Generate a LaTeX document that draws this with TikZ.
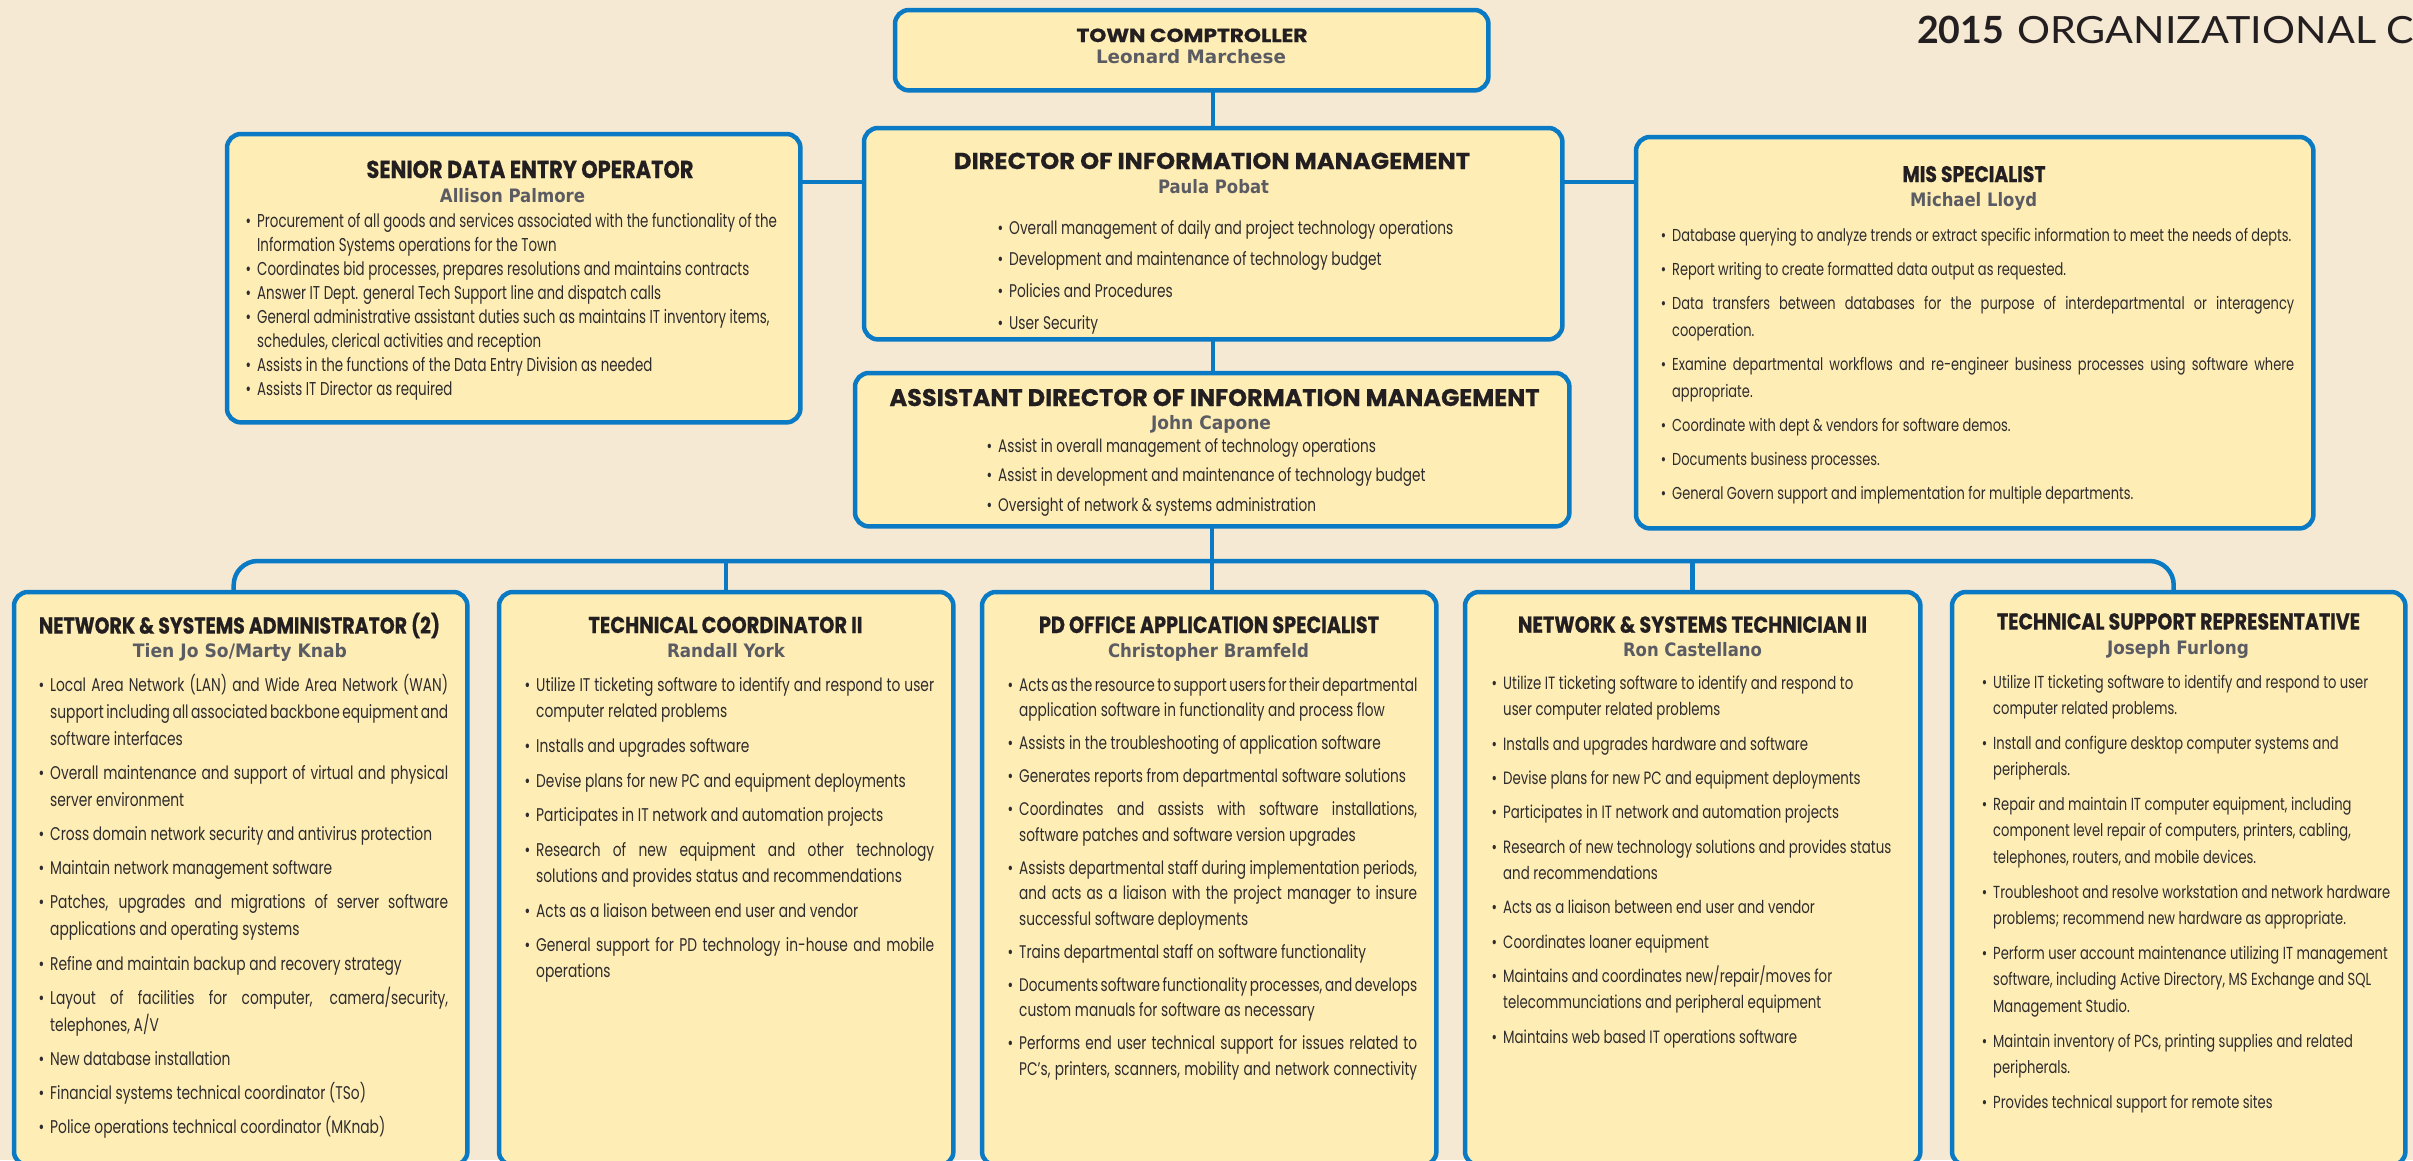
\documentclass[tikz,border=0pt]{standalone}
\usepackage{fontspec}
\usepackage{graphicx}
\setmainfont{Poppins}
\newfontfamily\HdF{Poppins}[BoldFeatures={FakeBold=0.6}]
\newfontfamily\NmF{DejaVu Sans}
\newfontfamily\BdN{Poppins}[FakeStretch=0.75]
\newfontfamily\BdC{Poppins}[FakeStretch=0.72]
\newfontfamily\TtF{Lato}

\definecolor{pagebg}{HTML}{F5E9D4}
\definecolor{boxfill}{HTML}{FEEDB5}
\definecolor{boxline}{HTML}{0A7AC4}
\definecolor{headcol}{HTML}{231F20}
\definecolor{namecol}{HTML}{5B5C63}
\definecolor{bodycol}{HTML}{2E2C2D}

% heading: target width, font size, text
\newcommand\Hd[3]{\resizebox{#1pt}{\height}{\HdF\bfseries\fontsize{#2}{#2}\selectfont #3}}
% person name: target width, text
\newcommand\Nm[2]{\resizebox{#1pt}{\height}{\NmF\bfseries\fontsize{18.5}{18.5}\selectfont #2}}
% list lines: bullet, justified line, ragged line, gap between duties
\newcommand\Bu{\llap{\textbullet\hskip 6pt}}
\newcommand\JL[1]{\hbox to\hsize{#1}}
\newcommand\RL[1]{\hbox{#1}}
\newcommand\GP[1]{\vskip #1pt}

\tikzset{
  orgbox/.style={draw=none, fill=none, inner sep=0pt, anchor=north west},
  link/.style={draw=boxline, line width=4.5pt},
  head/.style={inner sep=0pt, anchor=base, text=headcol},
  pname/.style={inner sep=0pt, anchor=base, text=namecol},
  duties/.style={inner sep=0pt, anchor=base west, text=bodycol},
}

\begin{document}
\begin{tikzpicture}[x=1pt,y=-1pt]
\useasboundingbox (0,0) rectangle (2413,1160);
\fill[pagebg] (0,0) rectangle (2413,1160);

% ---------- position boxes ----------
\node[orgbox, minimum width=593pt, minimum height=80pt] (ctrl) at (895,10) {};
\node[orgbox, minimum width=573pt, minimum height=288pt] (sen) at (227,134) {};
\node[orgbox, minimum width=698pt, minimum height=211pt] (dir) at (864,128) {};
\node[orgbox, minimum width=677pt, minimum height=391pt] (mis) at (1636,137) {};
\node[orgbox, minimum width=714pt, minimum height=153pt] (asst) at (855,373) {};
\node[orgbox, minimum width=453pt, minimum height=573pt] (b1) at (14,592) {};
\node[orgbox, minimum width=454pt, minimum height=573pt] (b2) at (499,592) {};
\node[orgbox, minimum width=454pt, minimum height=573pt] (b3) at (982,592) {};
\node[orgbox, minimum width=455pt, minimum height=573pt] (b4) at (1465,592) {};
\node[orgbox, minimum width=453pt, minimum height=573pt] (b5) at (1952,592) {};

% ---------- reporting lines (drawn first, boxes sit on top) ----------
\coordinate (hl) at (1214,182);
\coordinate (bus) at (1214,561);

\draw[link] (dir.north) -- (dir.north |- ctrl.south);
\draw[link] (dir.south) -- (dir.south |- asst.north);
\draw[link] (sen.east |- hl) -- (dir.west |- hl);
\draw[link] (dir.east |- hl) -- (mis.west |- hl);
\draw[link] (asst.south) -- (asst.south |- b3.north);
\draw[link, rounded corners=24pt] ([xshift=-7pt]b1.north) |- (bus) -| ([xshift=-5pt]b5.north);
\draw[link] (b2.north) -- (b2.north |- bus);
\draw[link] (b4.north) -- (b4.north |- bus);

% ---------- box outlines ----------
\foreach \b in {ctrl,sen,dir,mis,asst,b1,b2,b3,b4,b5}{
  \path[draw=boxline, fill=boxfill, line width=4.5pt, rounded corners=14pt]
    (\b.north west) rectangle (\b.south east);
}

% ---------- title ----------
\node[inner sep=0pt, anchor=base west, text=headcol] (title) at (1917,43)
  {\TtF\fontsize{37.5}{37.5}\selectfont\textbf{2015}\hskip 13pt\scalebox{1.10}[1]{ORGANIZATIONAL CHART}};

% ---------- headings and names ----------
\node[head] (ctrl-t) at (1192,42) {\Hd{231}{19}{TOWN COMPTROLLER}};
\node[pname] (ctrl-n) at (1191,63) {\Nm{190}{Leonard Marchese}};

\node[head] (sen-t) at (530,178) {\Hd{327}{24.5}{SENIOR DATA ENTRY OPERATOR}};
\node[pname] (sen-n) at (512.5,202) {\Nm{145}{Allison Palmore}};

\node[head] (dir-t) at (1212,169) {\Hd{516}{23}{DIRECTOR OF INFORMATION MANAGEMENT}};
\node[pname] (dir-n) at (1213.5,193) {\Nm{111}{Paula Pobat}};

\node[head] (mis-t) at (1974,182) {\Hd{143}{22.5}{MIS SPECIALIST}};
\node[pname] (mis-n) at (1973.5,206) {\Nm{127}{Michael Lloyd}};

\node[head] (asst-t) at (1214.5,406) {\Hd{650}{24}{ASSISTANT DIRECTOR OF INFORMATION MANAGEMENT}};
\node[pname] (asst-n) at (1211,429) {\Nm{120}{John Capone}};

\node[head] (b1-t) at (239.5,633.6) {\Hd{401}{23}{NETWORK \& SYSTEMS ADMINISTRATOR (2)}};
\node[pname] (b1-n) at (240,657.7) {\Nm{214}{Tien Jo So/Marty Knab}};

\node[head] (b2-t) at (725.5,633) {\Hd{274}{23}{TECHNICAL COORDINATOR II}};
\node[pname] (b2-n) at (726,657) {\Nm{118}{Randall York}};

\node[head] (b3-t) at (1209,633) {\Hd{340}{23.5}{PD OFFICE APPLICATION SPECIALIST}};
\node[pname] (b3-n) at (1208.5,657.5) {\Nm{201}{Christopher Bramfeld}};

\node[head] (b4-t) at (1692.5,632.7) {\Hd{349}{23}{NETWORK \& SYSTEMS TECHNICIAN II}};
\node[pname] (b4-n) at (1692.5,656.7) {\Nm{139}{Ron Castellano}};

\node[head] (b5-t) at (2178.5,629.6) {\Hd{363}{23}{TECHNICAL SUPPORT REPRESENTATIVE}};
\node[pname] (b5-n) at (2178,654.6) {\Nm{142}{Joseph Furlong}};

% ---------- duties ----------
\node[duties] (sen-d) at (257,227) {\vtop{\hsize=530pt\BdC\fontsize{18.6}{24}\selectfont
  \RL{\Bu Procurement of all goods and services associated with the functionality of the}
  \RL{Information Systems operations for the Town}
  \RL{\Bu Coordinates bid processes, prepares resolutions and maintains contracts}
  \RL{\Bu Answer IT Dept. general Tech Support line and dispatch calls}
  \RL{\Bu General administrative assistant duties such as maintains IT inventory items,}
  \RL{schedules, clerical activities and reception}
  \RL{\Bu Assists in the functions of the Data Entry Division as needed}
  \RL{\Bu Assists IT Director as required}}};

\node[duties] (dir-d) at (1009,234) {\vtop{\hsize=500pt\BdN\fontsize{18.35}{31.7}\selectfont
  \RL{\Bu Overall management of daily and project technology operations}
  \RL{\Bu Development and maintenance of technology budget}
  \RL{\Bu Policies and Procedures}
  \RL{\Bu User Security}}};

\node[duties] (asst-d) at (998,452) {\vtop{\hsize=500pt\BdN\fontsize{18.2}{29.5}\selectfont
  \RL{\Bu Assist in overall management of technology operations}
  \RL{\Bu Assist in development and maintenance of technology budget}
  \RL{\Bu Oversight of network \& systems administration}}};

\node[duties] (mis-d) at (1672,241) {\vtop{\hsize=622pt\BdN\fontsize{17.3}{27}\selectfont
  \RL{\Bu Database querying to analyze trends or extract specific information to meet the needs of depts.}\GP{7}
  \RL{\Bu Report writing to create formatted data output as requested.}\GP{7}
  \JL{\Bu Data transfers between databases for the purpose of interdepartmental or interagency}
  \RL{cooperation.}\GP{7}
  \JL{\Bu Examine departmental workflows and re-engineer business processes using software where}
  \RL{appropriate.}\GP{7}
  \RL{\Bu Coordinate with dept \& vendors for software demos.}\GP{7}
  \RL{\Bu Documents business processes.}\GP{7}
  \RL{\Bu General Govern support and implementation for multiple departments.}}};

\node[duties] (b1-d) at (50,691) {\vtop{\hsize=398pt\BdN\fontsize{18.4}{27}\selectfont
  \JL{\Bu Local Area Network (LAN) and Wide Area Network (WAN)}
  \JL{support including all associated backbone equipment and}
  \RL{software interfaces}\GP{7.2}
  \JL{\Bu Overall maintenance and support of virtual and physical}
  \RL{server environment}\GP{7.2}
  \RL{\Bu Cross domain network security and antivirus protection}\GP{7.2}
  \RL{\Bu Maintain network management software}\GP{7.2}
  \JL{\Bu Patches, upgrades and migrations of server software}
  \RL{applications and operating systems}\GP{7.2}
  \RL{\Bu Refine and maintain backup and recovery strategy}\GP{7.2}
  \JL{\Bu Layout of facilities for computer, camera/security,}
  \RL{telephones, A/V}\GP{7.2}
  \RL{\Bu New database installation}\GP{7.2}
  \RL{\Bu Financial systems technical coordinator (TSo)}\GP{7.2}
  \RL{\Bu Police operations technical coordinator (MKnab)}}};

\node[duties] (b2-d) at (536,691.7) {\vtop{\hsize=398pt\BdN\fontsize{18.4}{26}\selectfont
  \JL{\Bu Utilize IT ticketing software to identify and respond to user}
  \RL{computer related problems}\GP{8.7}
  \RL{\Bu Installs and upgrades software}\GP{8.7}
  \RL{\Bu Devise plans for new PC and equipment deployments}\GP{8.7}
  \RL{\Bu Participates in IT network and automation projects}\GP{8.7}
  \JL{\Bu Research of new equipment and other technology}
  \RL{solutions and provides status and recommendations}\GP{8.7}
  \RL{\Bu Acts as a liaison between end user and vendor}\GP{8.7}
  \JL{\Bu General support for PD technology in-house and mobile}
  \RL{operations}}};

\node[duties] (b3-d) at (1019,691) {\vtop{\hsize=398pt\BdN\fontsize{18.25}{25.5}\selectfont
  \JL{\Bu Acts as the resource to support users for their departmental}
  \RL{application software in functionality and process flow}\GP{7.5}
  \RL{\Bu Assists in the troubleshooting of application software}\GP{7.5}
  \RL{\Bu Generates reports from departmental software solutions}\GP{7.5}
  \JL{\Bu Coordinates and assists with software installations,}
  \RL{software patches and software version upgrades}\GP{7.5}
  \JL{\Bu Assists departmental staff during implementation periods,}
  \JL{and acts as a liaison with the project manager to insure}
  \RL{successful software deployments}\GP{7.5}
  \RL{\Bu Trains departmental staff on software functionality}\GP{7.5}
  \JL{\Bu Documents software functionality processes, and develops}
  \RL{custom manuals for software as necessary}\GP{7.5}
  \JL{\Bu Performs end user technical support for issues related to}
  \JL{PC’s, printers, scanners, mobility and network connectivity}}};

\node[duties] (b4-d) at (1503,689.3) {\vtop{\hsize=398pt\BdN\fontsize{17.8}{26.5}\selectfont
  \RL{\Bu Utilize IT ticketing software to identify and respond to}
  \RL{user computer related problems}\GP{7.8}
  \RL{\Bu Installs and upgrades hardware and software}\GP{7.8}
  \RL{\Bu Devise plans for new PC and equipment deployments}\GP{7.8}
  \RL{\Bu Participates in IT network and automation projects}\GP{7.8}
  \RL{\Bu Research of new technology solutions and provides status}
  \RL{and recommendations}\GP{7.8}
  \RL{\Bu Acts as a liaison between end user and vendor}\GP{7.8}
  \RL{\Bu Coordinates loaner equipment}\GP{7.8}
  \RL{\Bu Maintains and coordinates new/repair/moves for}
  \RL{telecommunciations and peripheral equipment}\GP{7.8}
  \RL{\Bu Maintains web based IT operations software}}};

\node[duties] (b5-d) at (1993,688) {\vtop{\hsize=398pt\BdN\fontsize{17.45}{26.3}\selectfont
  \RL{\Bu Utilize IT ticketing software to identify and respond to user}
  \RL{computer related problems.}\GP{8.7}
  \RL{\Bu Install and configure desktop computer systems and}
  \RL{peripherals.}\GP{8.7}
  \RL{\Bu Repair and maintain IT computer equipment, including}
  \RL{component level repair of computers, printers, cabling,}
  \RL{telephones, routers, and mobile devices.}\GP{8.7}
  \RL{\Bu Troubleshoot and resolve workstation and network hardware}
  \RL{problems; recommend new hardware as appropriate.}\GP{8.7}
  \RL{\Bu Perform user account maintenance utilizing IT management}
  \RL{software, including Active Directory, MS Exchange and SQL}
  \RL{Management Studio.}\GP{8.7}
  \RL{\Bu Maintain inventory of PCs, printing supplies and related}
  \RL{peripherals.}\GP{8.7}
  \RL{\Bu Provides technical support for remote sites}}};
\end{tikzpicture}
\end{document}
